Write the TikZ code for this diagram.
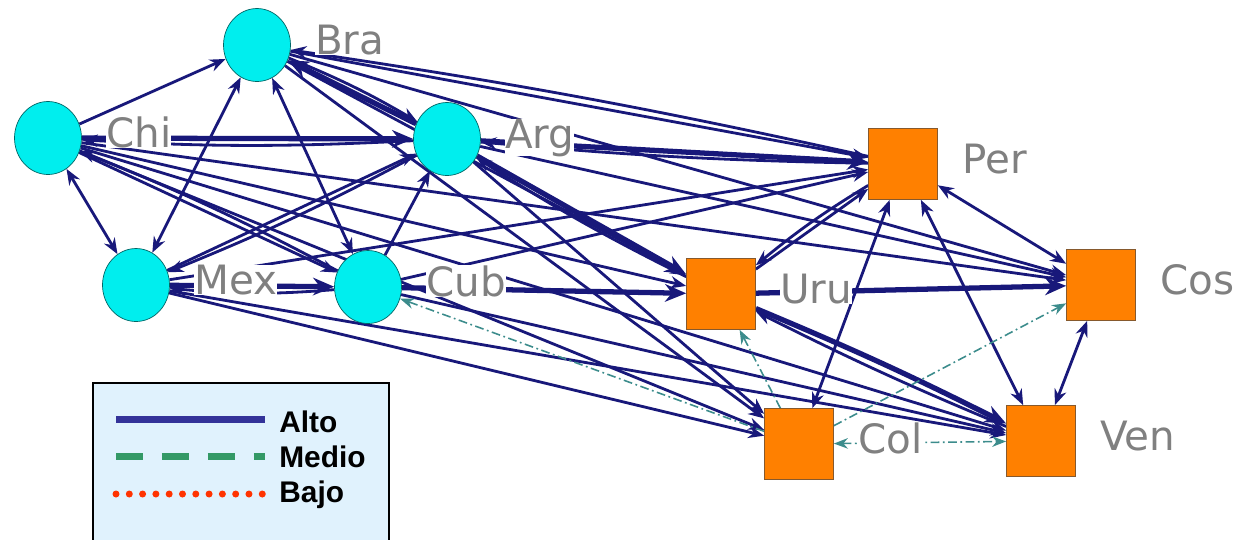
\documentclass[tikz,border=0pt]{standalone}
\usepackage{fontspec}
\newfontfamily\etiq{DejaVu Sans}
\newfontfamily\leyfont{Liberation Sans}
\usepackage{xcolor}
\usepackage{tikz}
\usetikzlibrary{shapes,shapes.geometric,arrows.meta,positioning}
\pgfdeclarelayer{fondo}
\pgfsetlayers{fondo,main}
\definecolor{azul}{RGB}{24,24,122}
\definecolor{verdeazul}{RGB}{60,140,140}
\definecolor{celeste}{RGB}{0,238,238}
\definecolor{naranja}{RGB}{255,128,0}
\definecolor{leyfondo}{RGB}{224,242,253}
\definecolor{leyalto}{RGB}{51,51,153}
\definecolor{leymedio}{RGB}{51,153,102}
\definecolor{leybajo}{RGB}{255,51,0}

\begin{document}
\begin{tikzpicture}[x=0.02cm,y=-0.02cm,
		pais/.style={ellipse,draw=teal!80!black,fill=celeste,minimum width=1.34cm,minimum height=1.46cm,inner sep=0},
		caja/.style={rectangle,draw=brown!70!black,fill=naranja,minimum width=1.38cm,minimum height=1.42cm,inner sep=0},
		etq/.style={fill=white,text=gray,inner sep=0pt,font=\etiq\fontsize{23}{28}\selectfont},
		alto/.style={draw=azul,line width=1.6pt,-{Stealth[length=9pt,width=7pt]}},
		fuerte/.style={alto,line width=3pt,-{Stealth[length=12pt,width=10pt]}},
		ambos/.style={alto,{Stealth[length=9pt,width=7pt]}-{Stealth[length=9pt,width=7pt]}},
		medio/.style={draw=verdeazul,line width=0.9pt,dash pattern=on 5pt off 2pt on 1pt off 2pt,-{Stealth[length=8pt,width=6pt]}},
		medioambos/.style={medio,{Stealth[length=8pt,width=6pt]}-{Stealth[length=8pt,width=6pt]}},
		leytxt/.style={anchor=base west,inner sep=0pt,font=\leyfont\bfseries\fontsize{17}{20}\selectfont}]
		\useasboundingbox (0,0) rectangle (1240,539);
		\node[pais] (bra) at (257,45) {};
		\node[pais] (chi) at (48,138) {};
		\node[pais] (arg) at (447,139) {};
		\node[pais] (mex) at (136,285) {};
		\node[pais] (cub) at (368,287) {};
		\node[caja] (per) at (903,164) {};
		\node[caja] (uru) at (721,294) {};
		\node[caja] (cos) at (1101,285) {};
		\node[caja] (col) at (799,444) {};
		\node[caja] (ven) at (1041,441) {};
		\begin{pgfonlayer}{fondo}
		% circulos
		\draw[alto] (chi) -- (bra);
		\draw[ambos] (chi) -- (mex);
		\draw[ambos] (bra) -- (mex);
		\draw[ambos] (bra) -- (cub);
		\draw[fuerte] (chi) -- (arg);
		\draw[alto] (arg) to[bend left=3] (chi);
		\draw[fuerte] (arg) -- (bra);
		\draw[alto] (bra) to[bend left=4] (arg);
		\draw[alto] (mex) -- (arg);
		\draw[alto] (arg) to[bend left=3] (mex);
		\draw[alto] (cub) -- (arg);
		\draw[alto] (chi) -- (cub);
		\draw[fuerte] (mex) -- (cub);
		\draw[alto] (cub) to[bend left=5] (mex);
		\draw[alto] (cub) to[bend right=3] (chi);
		% hacia los cuadrados
		\draw[alto] (bra) -- (per);
		\draw[alto] (per) to[bend right=2] (bra);
		\draw[alto] (bra) -- (cos);
		\draw[alto] (bra) -- (uru);
		\draw[alto] (bra) -- (col);
		\draw[fuerte] (arg) -- (per);
		\draw[alto] (per) to[bend left=2] (arg);
		\draw[alto] (arg) -- (cos);
		\draw[fuerte] (arg) -- (uru);
		\draw[alto] (uru) to[bend left=3] (arg);
		\draw[alto] (arg) -- (col);
		\draw[alto] (chi) -- (uru);
		\draw[alto] (chi) -- (cos);
		\draw[alto] (chi) -- (col);
		\draw[alto] (chi) -- (ven);
		\draw[alto] (mex) -- (per);
		\draw[alto] (mex) -- (col);
		\draw[alto] (mex) -- (ven);
		\draw[fuerte] (cub) -- (uru);
		\draw[alto] (cub) -- (per);
		\draw[alto] (cub) -- (ven);
		% cuadrados
		\draw[fuerte] (uru) -- (cos);
		\draw[alto] (uru) -- (per);
		\draw[alto] (per) to[bend right=4] (uru);
		\draw[ambos] (per) -- (col);
		\draw[ambos] (per) -- (cos);
		\draw[ambos] (per) -- (ven);
		\draw[ambos] (cos) -- (ven);
		\draw[alto] (ven) to[bend left=2] (uru);
		\draw[fuerte] (uru) to[bend left=2] (ven);
		\draw[medio] (col) -- (cub);
		\draw[medio] (col) -- (cos);
		\draw[medio] (col) -- (uru);
		\draw[medioambos] (col) -- (ven);
		\end{pgfonlayer}
		% etiquetas
		\node[etq,base right=0.48cm of bra,yshift=-0.18cm] (bra-l) {Bra};
		\node[etq,base right=0.48cm of chi,yshift=-0.18cm] (chi-l) {Chi};
		\node[etq,base right=0.48cm of arg,yshift=-0.18cm] (arg-l) {Arg};
		\node[etq,base right=0.48cm of mex,yshift=-0.18cm] (mex-l) {Mex};
		\node[etq,base right=0.48cm of cub,yshift=-0.18cm] (cub-l) {Cub};
		\node[etq,base right=0.48cm of per,yshift=-0.18cm] (per-l) {Per};
		\node[etq,base right=0.48cm of uru,yshift=-0.18cm] (uru-l) {Uru};
		\node[etq,base right=0.48cm of cos,yshift=-0.18cm] (cos-l) {Cos};
		\node[etq,base right=0.48cm of col,yshift=-0.18cm] (col-l) {Col};
		\node[etq,base right=0.48cm of ven,yshift=-0.18cm] (ven-l) {Ven};
		% leyenda
		\node[draw=black,line width=1pt,fill=leyfondo,anchor=north west,minimum width=5.92cm,minimum height=3.6cm] (ley) at (92,382) {};
		\node[leytxt] (alto-t) at (279,432) {Alto};
		\node[leytxt] (medio-t) at (279,467) {Medio};
		\node[leytxt] (bajo-t) at (279,502) {Bajo};
		\draw[leyalto,line width=0.14cm] (116,419) -- (265,419);
		\draw[leymedio,line width=0.14cm,dash pattern=on 0.54cm off 0.38cm] (116,456) -- (265,456);
		\draw[leybajo,line width=0.14cm,line cap=round,dash pattern=on 0pt off 0.266cm] (116,494) -- (263,494);
\end{tikzpicture}
\end{document}
